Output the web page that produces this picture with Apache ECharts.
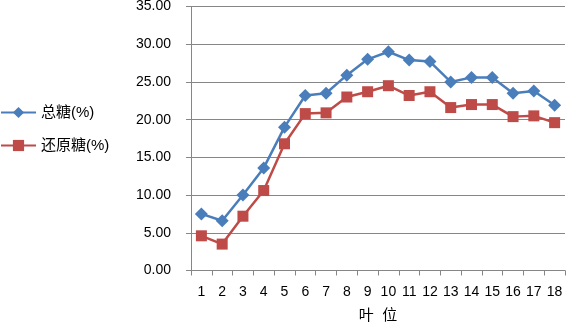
<!DOCTYPE html>
<html><head><meta charset="utf-8">
<script src="https://cdn.jsdelivr.net/npm/echarts@6/dist/echarts.min.js"></script>
<style>html,body{margin:0;padding:0;background:#fff}#c{width:567px;height:326px}</style>
</head><body><div id="c"></div>
<script>
const categories = ['1','2','3','4','5','6','7','8','9','10','11','12','13','14','15','16','17','18'];
const totalSugar = [7.5, 6.6, 10.0, 13.6, 19.0, 23.2, 23.5, 25.9, 28.0, 29.0, 27.9, 27.7, 25.0, 25.6, 25.6, 23.5, 23.8, 21.9];
const reducingSugar = [4.6, 3.5, 7.2, 10.6, 16.8, 20.8, 20.9, 23.0, 23.7, 24.5, 23.2, 23.7, 21.6, 22.0, 22.0, 20.4, 20.5, 19.6];
const seriesNames = ['总糖(%)', '还原糖(%)'];
const xName = '叶  位';

const font = 'Liberation Sans, Noto Sans CJK SC, sans-serif';
const chart = echarts.init(document.getElementById('c'));
chart.setOption({
  animation: false,
  grid: {left: 191, right: 2, top: 6.5, bottom: 55.5, outerBoundsMode: 'none', containLabel: false},
  legend: {
    orient: 'vertical', left: 0, top: 105, padding: 0, itemWidth: 35, itemHeight: 14, itemGap: 18,
    textStyle: {fontSize: 15, color: '#000', fontFamily: font},
    data: seriesNames
  },
  xAxis: {
    type: 'category', data: categories, boundaryGap: true,
    name: xName, nameLocation: 'middle', nameGap: 38,
    nameTextStyle: {fontSize: 15, color: '#000', fontFamily: font},
    axisLine: {lineStyle: {color: '#868686', width: 1}},
    axisTick: {show: true, length: 5, lineStyle: {color: '#868686'}},
    axisLabel: {fontSize: 14, color: '#000', margin: 15, fontFamily: font}
  },
  yAxis: {
    type: 'value', min: 0, max: 35, interval: 5,
    axisLine: {show: true, lineStyle: {color: '#868686', width: 1}},
    axisTick: {show: true, length: 5, lineStyle: {color: '#868686'}},
    axisLabel: {fontSize: 14, color: '#000', margin: 20, fontFamily: font, formatter: v => v.toFixed(2)},
    splitLine: {lineStyle: {color: '#868686', width: 1}}
  },
  series: [
    {name: seriesNames[0], type: 'line', data: totalSugar, symbol: 'diamond', symbolSize: 13,
     lineStyle: {color: '#4A7EBB', width: 2.5}, itemStyle: {color: '#4A7EBB'}},
    {name: seriesNames[1], type: 'line', data: reducingSugar, symbol: 'rect', symbolSize: 11,
     lineStyle: {color: '#BE4B48', width: 2.5}, itemStyle: {color: '#BE4B48'}}
  ]
});
</script></body></html>
